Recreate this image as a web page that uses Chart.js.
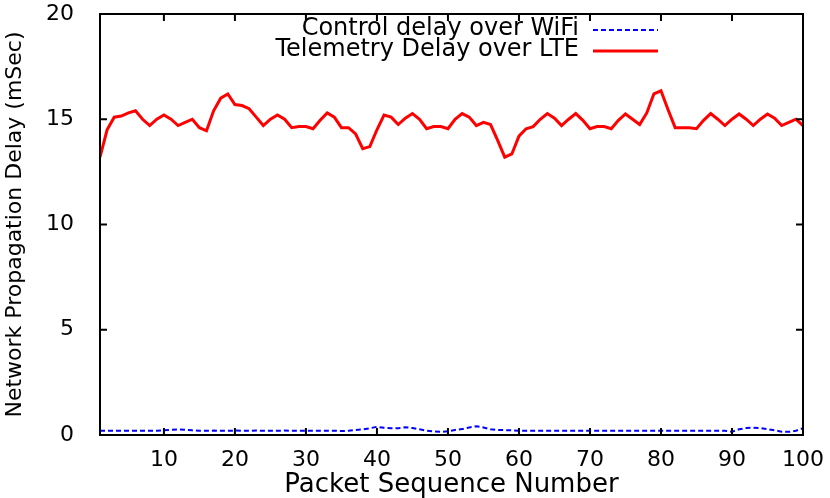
<!DOCTYPE html>
<html>
<head>
<meta charset="utf-8">
<title>Network Propagation Delay</title>
<script src="https://cdn.jsdelivr.net/npm/chart.js@4.4.1/dist/chart.umd.min.js"></script>
<style>
  html, body { margin: 0; padding: 0; background: #fff; }
  #wrap { width: 830px; height: 498px; }
</style>
</head>
<body>
<div id="wrap"><canvas id="chart" width="830" height="498"></canvas></div>
<script>
// packet sequence numbers (x axis)
const packetSeq = [
  1, 2, 3, 4, 5, 6, 7, 8, 9, 10, 11, 12, 13, 14, 15, 16, 17, 18, 19, 20,
  21, 22, 23, 24, 25, 26, 27, 28, 29, 30, 31, 32, 33, 34, 35, 36, 37, 38, 39, 40,
  41, 42, 43, 44, 45, 46, 47, 48, 49, 50, 51, 52, 53, 54, 55, 56, 57, 58, 59, 60,
  61, 62, 63, 64, 65, 66, 67, 68, 69, 70, 71, 72, 73, 74, 75, 76, 77, 78, 79, 80,
  81, 82, 83, 84, 85, 86, 87, 88, 89, 90, 91, 92, 93, 94, 95, 96, 97, 98, 99, 100
];

// delay in mSec
const wifiDelay = [
  0.2, 0.2, 0.2, 0.2, 0.2, 0.2, 0.2, 0.2, 0.2, 0.22, 0.25, 0.26, 0.25, 0.22, 0.2, 0.2, 0.21, 0.2, 0.2, 0.21,
  0.2, 0.2, 0.21, 0.2, 0.2, 0.2, 0.21, 0.2, 0.2, 0.2, 0.2, 0.2, 0.2, 0.2, 0.19, 0.2, 0.24, 0.27, 0.32, 0.39,
  0.34, 0.32, 0.32, 0.37, 0.33, 0.27, 0.2, 0.17, 0.15, 0.18, 0.24, 0.28, 0.36, 0.42, 0.36, 0.27, 0.24, 0.23, 0.22, 0.2,
  0.2, 0.2, 0.2, 0.2, 0.2, 0.2, 0.2, 0.2, 0.2, 0.2, 0.2, 0.2, 0.2, 0.2, 0.2, 0.2, 0.2, 0.2, 0.2, 0.2,
  0.2, 0.2, 0.2, 0.2, 0.2, 0.2, 0.2, 0.2, 0.2, 0.15, 0.27, 0.33, 0.35, 0.33, 0.28, 0.22, 0.16, 0.15, 0.2, 0.32
];

const lteDelay = [
  13.2, 14.5, 15.1, 15.15, 15.3, 15.4, 15.0, 14.7, 15.0, 15.2, 15.0, 14.7, 14.85, 15.0, 14.6, 14.45, 15.4, 16.0, 16.2, 15.7,
  15.65, 15.5, 15.1, 14.7, 15.0, 15.2, 15.0, 14.6, 14.65, 14.65, 14.55, 14.95, 15.3, 15.1, 14.6, 14.6, 14.3, 13.6, 13.7, 14.5,
  15.2, 15.1, 14.75, 15.05, 15.27, 15.0, 14.55, 14.65, 14.65, 14.55, 15.0, 15.27, 15.1, 14.7, 14.85, 14.75, 14.0, 13.2, 13.35, 14.2,
  14.55, 14.65, 15.0, 15.27, 15.05, 14.7, 15.0, 15.27, 14.95, 14.55, 14.65, 14.65, 14.55, 14.95, 15.25, 15.0, 14.75, 15.3, 16.2, 16.35,
  15.45, 14.6, 14.6, 14.6, 14.55, 14.95, 15.27, 15.0, 14.7, 15.0, 15.25, 15.0, 14.7, 15.0, 15.25, 15.05, 14.7, 14.85, 15.0, 14.7
];

const xTicks = [10, 20, 30, 40, 50, 60, 70, 80, 90, 100];
const yTicks = [0, 5, 10, 15, 20];

const seriesNames = ["Control delay over WiFi", "Telemetry Delay over LTE"];

const FONT = "'DejaVu Sans', sans-serif";

// gnuplot style frame with inward ticks on all four sides
const framePlugin = {
  id: "frame",
  afterDatasetsDraw(chart) {
    const { ctx, chartArea: a, scales } = chart;
    const tl = 7;
    ctx.save();
    ctx.strokeStyle = "#000";
    ctx.lineWidth = 2;
    ctx.beginPath();
    xTicks.forEach(v => {
      const x = scales.x.getPixelForValue(v);
      ctx.moveTo(x, a.bottom); ctx.lineTo(x, a.bottom - tl);
      ctx.moveTo(x, a.top); ctx.lineTo(x, a.top + tl);
    });
    yTicks.forEach(v => {
      const y = scales.y.getPixelForValue(v);
      ctx.moveTo(a.left, y); ctx.lineTo(a.left + tl, y);
      ctx.moveTo(a.right, y); ctx.lineTo(a.right - tl, y);
    });
    ctx.stroke();
    ctx.strokeRect(a.left, a.top, a.right - a.left, a.bottom - a.top);
    ctx.restore();
  }
};

// key in the top right: text first, then the line sample
const keyPlugin = {
  id: "key",
  afterDraw(chart) {
    const { ctx, chartArea: a } = chart;
    const textRight = a.right - 224;
    const sampleLeft = a.right - 210;
    const sampleRight = a.right - 145;
    ctx.save();
    ctx.font = "24px " + FONT;
    ctx.fillStyle = "#000";
    ctx.textAlign = "right";
    ctx.textBaseline = "middle";
    chart.data.datasets.forEach((ds, i) => {
      const y = a.top + 14 + i * 21;
      ctx.fillText(ds.label, textRight, y + 1);
      ctx.strokeStyle = ds.borderColor;
      ctx.lineWidth = ds.borderWidth;
      ctx.setLineDash(ds.borderDash || []);
      ctx.beginPath();
      ctx.moveTo(sampleLeft, y + 2);
      ctx.lineTo(sampleRight, y + 2);
      ctx.stroke();
    });
    ctx.restore();
  }
};

new Chart(document.getElementById("chart"), {
  type: "line",
  data: {
    labels: packetSeq,
    datasets: [
      {
        label: seriesNames[0],
        data: wifiDelay,
        borderColor: "#0000ff",
        borderWidth: 2,
        borderDash: [5, 3],
        pointRadius: 0,
        tension: 0
      },
      {
        label: seriesNames[1],
        data: lteDelay,
        borderColor: "#ff0000",
        borderWidth: 3,
        pointRadius: 0,
        tension: 0
      }
    ]
  },
  options: {
    responsive: false,
    animation: false,
    events: [],
    layout: { padding: { top: 14, right: 27, left: 0, bottom: 0 } },
    plugins: {
      legend: { display: false },
      tooltip: { enabled: false }
    },
    scales: {
      x: {
        type: "linear",
        min: 1,
        max: 100,
        afterBuildTicks(scale) { scale.ticks = xTicks.map(v => ({ value: v })); },
        afterFit(scale) {
          scale.height = 63;
          scale.paddingLeft = 0;
          scale.paddingRight = 0;
        },
        grid: { display: false },
        border: { display: false },
        ticks: { color: "#000", padding: 4, maxRotation: 0, font: { family: FONT, size: 22 } },
        title: {
          display: true,
          text: "Packet Sequence Number",
          color: "#000",
          padding: 0,
          font: { family: FONT, size: 26, lineHeight: 1.0 }
        }
      },
      y: {
        min: 0,
        max: 20,
        afterBuildTicks(scale) { scale.ticks = yTicks.map(v => ({ value: v })); },
        afterFit(scale) {
          scale.width = 100;
          scale.paddingTop = 0;
          scale.paddingBottom = 0;
        },
        grid: { display: false },
        border: { display: false },
        ticks: { color: "#000", padding: 18, font: { family: FONT, size: 22 } },
        title: {
          display: true,
          text: "Network Propagation Delay (mSec)",
          color: "#000",
          padding: 2,
          font: { family: FONT, size: 22, lineHeight: 1.2 }
        }
      }
    }
  },
  plugins: [framePlugin, keyPlugin]
});
</script>
</body>
</html>
